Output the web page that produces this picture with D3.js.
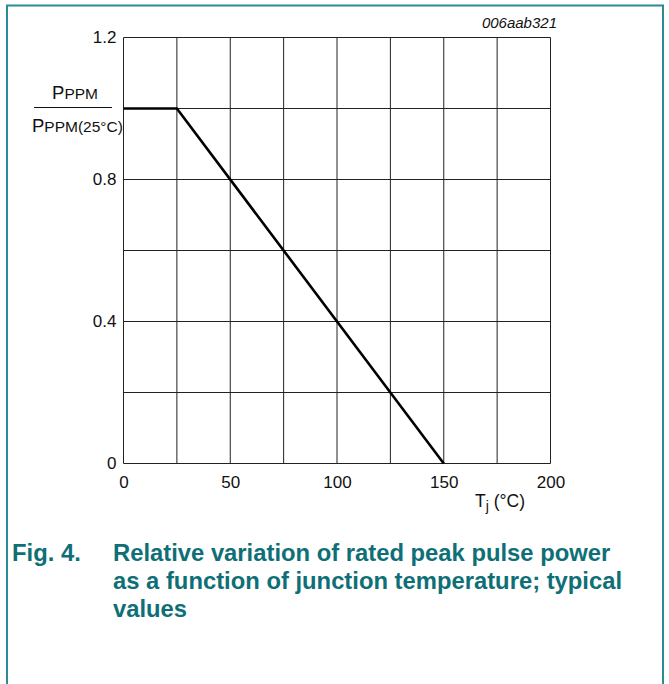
<!DOCTYPE html>
<html><head><meta charset="utf-8">
<script src="https://cdn.jsdelivr.net/npm/d3@7"></script>
<style>body{margin:0;background:#fff}svg{display:block}</style>
</head><body>
<script>
const temps = [0, 25, 150];
const ratio = [1.0, 1.0, 0.0];
const xTicks = [0, 50, 100, 150, 200];
const yTicks = [0, 0.4, 0.8, 1.2];
const xGrid = [0, 25, 50, 75, 100, 125, 150, 175, 200];
const yGrid = [0, 0.2, 0.4, 0.6, 0.8, 1.0, 1.2];
const captionLines = ["Relative variation of rated peak pulse power", "as a function of junction temperature; typical", "values"];

const W = 669, H = 684;
const svg = d3.select("body").append("svg").attr("width", W).attr("height", H);
const frameCol = "#2a8c94";
const capCol = "#0e6f77";
const font = "Liberation Sans, Arial, sans-serif";

svg.append("path").attr("d", `M7,${H} V5.5 H663 V${H}`).attr("fill","none").attr("stroke",frameCol).attr("stroke-width",2);

const x = d3.scaleLinear().domain([0,200]).range([123.5,550.5]);
const y = d3.scaleLinear().domain([0,1.2]).range([463.5,37.5]);

const g = svg.append("g");
g.selectAll("line.vx").data(xGrid).join("line").attr("class","vx")
  .attr("x1",d=>x(d)).attr("x2",d=>x(d)).attr("y1",y(0)).attr("y2",y(1.2))
  .attr("stroke","#222").attr("stroke-width",1);
g.selectAll("line.hy").data(yGrid).join("line").attr("class","hy")
  .attr("y1",d=>y(d)).attr("y2",d=>y(d)).attr("x1",x(0)).attr("x2",x(200))
  .attr("stroke","#222").attr("stroke-width",1);

const xAxis = svg.append("g").attr("transform",`translate(0,${y(0)})`)
  .call(d3.axisBottom(x).tickValues(xTicks).tickSize(0).tickPadding(12).tickFormat(d3.format("d")));
xAxis.select(".domain").remove();
xAxis.selectAll("text").attr("font-family",font).attr("font-size",17).attr("fill","#111");
const yAxis = svg.append("g").attr("transform",`translate(${x(0)},0)`)
  .call(d3.axisLeft(y).tickValues(yTicks).tickSize(0).tickPadding(7).tickFormat(d=>d===0?"0":d3.format(".1f")(d)));
yAxis.select(".domain").remove();
yAxis.selectAll("text").attr("font-family",font).attr("font-size",17).attr("fill","#111");

svg.append("path").datum(temps.map((t,i)=>[t,ratio[i]]))
  .attr("d", d3.line().x(d=>x(d[0])).y(d=>y(d[1])))
  .attr("fill","none").attr("stroke","#000").attr("stroke-width",2.6).attr("stroke-linejoin","miter");

const num = svg.append("text").attr("x",75).attr("y",99).attr("text-anchor","middle").attr("font-family",font).attr("fill","#111");
num.append("tspan").attr("font-size",18.5).text("P");
num.append("tspan").attr("font-size",15.5).text("PPM");
svg.append("line").attr("x1",34).attr("x2",112).attr("y1",107.5).attr("y2",107.5).attr("stroke","#111").attr("stroke-width",1);
const den = svg.append("text").attr("x",32).attr("y",132).attr("font-family",font).attr("fill","#111");
den.append("tspan").attr("font-size",18.5).text("P");
den.append("tspan").attr("font-size",15.5).text("PPM(25°C)");

const xl = svg.append("text").attr("x",475).attr("y",507).attr("font-family",font).attr("font-size",17.5).attr("fill","#111");
xl.append("tspan").text("T");
xl.append("tspan").attr("font-size",14).attr("dy",4).text("j");
xl.append("tspan").attr("dy",-4).text(" (°C)");

svg.append("text").attr("x",557).attr("y",28).attr("text-anchor","end").attr("font-family",font)
  .attr("font-style","italic").attr("font-size",15).attr("fill","#111").text("006aab321");

svg.append("text").attr("x",12).attr("y",561).attr("font-family",font).attr("font-weight","bold")
  .attr("font-size",23.8).attr("fill",capCol).text("Fig. 4.");
svg.selectAll("text.cap").data(captionLines).join("text").attr("class","cap")
  .attr("x",113).attr("y",(d,i)=>561+i*28).attr("font-family",font).attr("font-weight","bold")
  .attr("font-size",23.8).attr("fill",capCol).text(d=>d);
</script>
</body></html>
